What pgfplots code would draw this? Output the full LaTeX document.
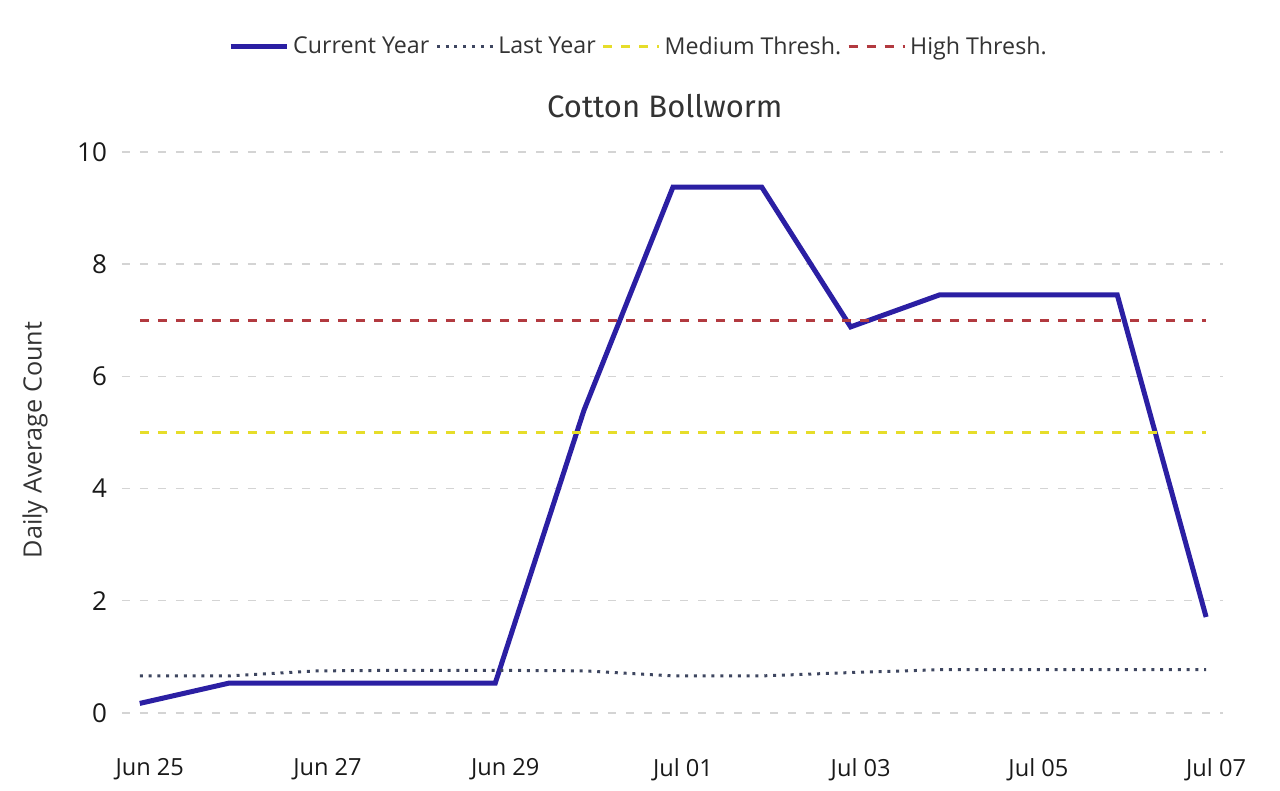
\documentclass[border=0pt]{standalone}
\usepackage{fontspec}
\setmainfont{Open Sans}
\newfontfamily\titlefont{Fira Sans}
\usepackage{pgfplots}
\pgfplotsset{compat=1.18}

\definecolor{curblue}{HTML}{2B1FA3}
\definecolor{lastgray}{HTML}{3E4660}
\definecolor{medyellow}{HTML}{E6DD2A}
\definecolor{highred}{HTML}{B23A40}
\definecolor{gridgray}{HTML}{D4D4D4}

\begin{document}
\begin{tikzpicture}
\useasboundingbox (-61pt,-27.8pt) rectangle (579pt,367.7pt);
\begin{axis}[
  at={(0,0)}, anchor=south west,
  scale only axis,
  width=550.5pt, height=300.2pt,
  xmin=-0.2, xmax=12.19,
  ymin=-0.4, ymax=10.3,
  axis line style={draw=none},
  clip=false,
  xtick={0,2,4,6,8,10,12},
  xticklabels={Jun 25,Jun 27,Jun 29,Jul 01,Jul 03,Jul 05,Jul 07},
  ytick={0,2,4,6,8,10},
  ymajorgrids,
  grid style={gridgray, line width=0.75pt, dash pattern=on 4pt off 5pt},
  tick style={draw=none},
  /pgf/number format/assume math mode=true,
  yticklabel style={font=\fontsize{13}{15}\selectfont, text=black!90, anchor=east, xshift=-4pt},
  xticklabel style={font=\fontsize{11.8}{14}\selectfont, text=black!90, anchor=north, xshift=5pt, yshift=-8pt},
  title={\titlefont\fontsize{15.5}{18}\selectfont Cotton Bollworm},
  title style={at={(axis description cs:0.493,1.028)}, anchor=center, yshift=0pt, text=black!80},
  ylabel={Daily Average Count},
  ylabel style={font=\fontsize{12.6}{15}\selectfont, text=black!80, at={(axis description cs:-0.079,0.492)}, anchor=center},
  legend columns=4,
  legend style={at={(axis description cs:0.470,1.1466)}, anchor=center, draw=none, fill=none,
    font=\fontsize{11.6}{14}\selectfont, text=black!80,
    /tikz/every even column/.append style={column sep=1pt},
    /tikz/every odd column/.append style={column sep=0pt},
    inner sep=0pt},
  legend image code/.code={\draw[#1] (0pt,0pt) -- (28pt,0pt);},
  legend cell align=left,
]
% current season daily average counts
\addplot[curblue, line width=2.5pt, line join=miter] coordinates {
  (0,0.17) (1,0.53) (2,0.53) (3,0.53) (4,0.53) (5,5.40) (6,9.37)
  (7,9.37) (8,6.88) (9,7.45) (10,7.45) (11,7.45) (12,1.71)
};
\addlegendentry{Current Year}
% previous season
\addplot[lastgray, line width=1.5pt, dash pattern=on 1.5pt off 2.9pt] coordinates {
  (0,0.66) (1,0.66) (2,0.75) (3,0.76) (4,0.76) (5,0.75) (6,0.66)
  (7,0.66) (8,0.72) (9,0.77) (10,0.77) (11,0.77) (12,0.77)
};
\addlegendentry{Last Year}
% thresholds
\addplot[medyellow, line width=1.5pt, dash pattern=on 4.5pt off 4.5pt] coordinates {(0,5) (12,5)};
\addlegendentry{Medium Thresh.}
\addplot[highred, line width=1.5pt, dash pattern=on 4.5pt off 4.5pt] coordinates {(0,7) (12,7)};
\addlegendentry{High Thresh.}
\end{axis}
\end{tikzpicture}
\end{document}
